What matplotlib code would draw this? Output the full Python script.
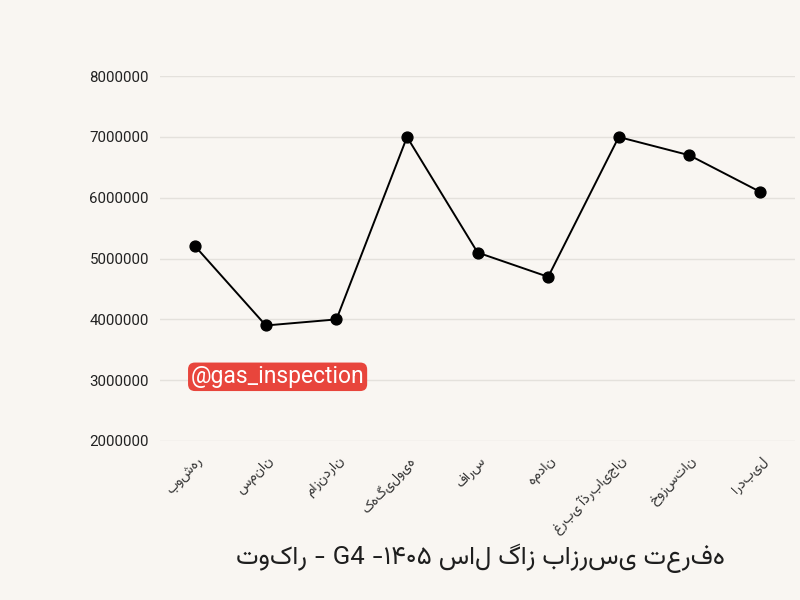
import matplotlib
matplotlib.use("Agg")
import matplotlib.pyplot as plt

# provinces, written in visual word order (renderer shapes words but does not reorder them)
provinces = ["بوشهر", "سمنان", "مازندران", "کهگیلویه", "فارس", "همدان",
             "غربی آذربایجان", "خوزستان", "اردبیل"]
prices = [5200000, 3900000, 4000000, 7000000, 5100000, 4700000,
          7000000, 6700000, 6100000]
yticks = [2000000, 3000000, 4000000, 5000000, 6000000, 7000000, 8000000]
title = "توکار - G4 -۱۴۰۵ سال گاز بازرسی تعرفه"
watermark = "@gas_inspection"

bg = "#f9f6f2"
fig = plt.figure(figsize=(8, 6), dpi=100, facecolor=bg)
ax = fig.add_axes([0.2, 0.265, 0.794, 0.608], facecolor=bg)

x = list(range(len(provinces)))
ax.plot(x, prices, color="black", lw=1.4, marker="o", ms=7.8, zorder=3)

ax.set_xlim(-0.5, len(provinces) - 0.5)
ax.set_ylim(yticks[0], yticks[-1])
ax.set_yticks(yticks)
ax.set_yticklabels([str(v) for v in yticks], family=["Roboto", "DejaVu Sans"],
                   fontsize=10.8, color="#222222")
ax.set_xticks(x)
ax.set_xticklabels(provinces, rotation=47, ha="right", va="top",
                   rotation_mode="anchor", family=["Vazirmatn", "DejaVu Sans"],
                   fontsize=10, fontweight="light", color="#333333")
ax.tick_params(axis="both", length=0)
ax.tick_params(axis="y", pad=8)
ax.tick_params(axis="x", pad=9)
ax.grid(axis="y", color="#e4e1dc", lw=1)
ax.set_axisbelow(True)
for sp in ax.spines.values():
    sp.set_visible(False)

fig.text(0.347, 0.372, watermark, ha="center", va="center", color="white",
         fontsize=16.5, family=["Roboto", "DejaVu Sans"],
         bbox=dict(boxstyle="round,pad=0.12,rounding_size=0.3",
                   fc="#e8453c", ec="none"))

fig.text(0.601, 0.07, title, ha="center", va="center", fontsize=18.5,
         family=["Vazirmatn", "DejaVu Sans"], color="#1e1e1e")

fig.savefig("out.png", dpi=100, facecolor=bg)
